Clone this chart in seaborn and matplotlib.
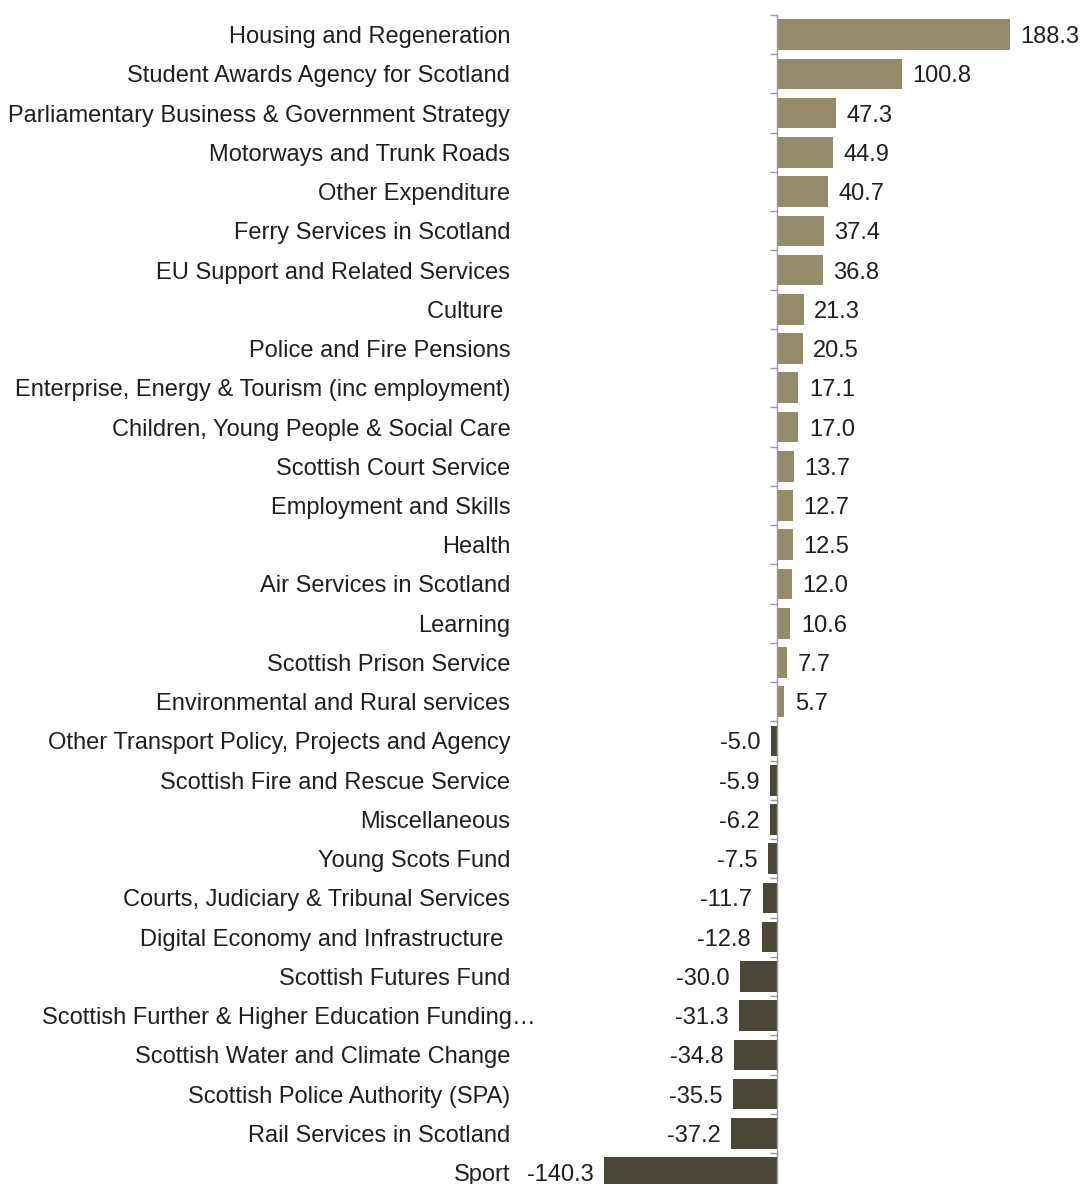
import matplotlib
matplotlib.use("Agg")
import matplotlib.pyplot as plt
import seaborn as sns
import pandas as pd
import numpy as np

categories = [
    "Housing and Regeneration",
    "Student Awards Agency for Scotland",
    "Parliamentary Business & Government Strategy",
    "Motorways and Trunk Roads",
    "Other Expenditure",
    "Ferry Services in Scotland",
    "EU Support and Related Services",
    "Culture ",
    "Police and Fire Pensions",
    "Enterprise, Energy & Tourism (inc employment)",
    "Children, Young People & Social Care",
    "Scottish Court Service",
    "Employment and Skills",
    "Health",
    "Air Services in Scotland",
    "Learning",
    "Scottish Prison Service",
    "Environmental and Rural services",
    "Other Transport Policy, Projects and Agency",
    "Scottish Fire and Rescue Service",
    "Miscellaneous",
    "Young Scots Fund",
    "Courts, Judiciary & Tribunal Services",
    "Digital Economy and Infrastructure ",
    "Scottish Futures Fund",
    "Scottish Further & Higher Education Funding…",
    "Scottish Water and Climate Change",
    "Scottish Police Authority (SPA)",
    "Rail Services in Scotland",
    "Sport",
]
values = [188.3, 100.8, 47.3, 44.9, 40.7, 37.4, 36.8, 21.3, 20.5, 17.1, 17.0,
          13.7, 12.7, 12.5, 12.0, 10.6, 7.7, 5.7, -5.0, -5.9, -6.2, -7.5,
          -11.7, -12.8, -30.0, -31.3, -34.8, -35.5, -37.2, -140.3]

df = pd.DataFrame({"category": categories, "value": values})
df["sign"] = np.where(df["value"] >= 0, "pos", "neg")

sns.set_style("white")
plt.rcParams["font.family"] = ["Liberation Sans", "DejaVu Sans"]

W, H, DPI = 1082, 1184, 100
fig = plt.figure(figsize=(W / DPI, H / DPI), dpi=DPI)
ax = fig.add_axes([604 / W, 0, 406 / W, (H - 15.0) / H])

sns.barplot(data=df, x="value", y="category", hue="sign", orient="h",
            palette={"pos": "#9a8f62", "neg": "#4e4935"}, dodge=False,
            legend=False, width=0.78, ax=ax, edgecolor="none", linewidth=0)

ax.set_xlabel("")
ax.set_ylabel("")
ax.set_xticks([])

for s in ["top", "right", "bottom"]:
    ax.spines[s].set_visible(False)
ax.spines["left"].set_position(("data", 0))
ax.spines["left"].set_color("#9a9a9a")
ax.spines["left"].set_linewidth(1.0)

ax.set_yticks(range(len(categories)))
ax.set_yticklabels(["" if c.endswith("…") else c for c in categories])
ax.set_yticks(np.arange(-0.5, len(categories) - 1, 1.0), minor=True)
ax.tick_params(axis="y", which="major", length=0, pad=267 * 72 / DPI,
               labelsize=17, labelcolor="#1f1f1f")
ax.tick_params(axis="y", which="minor", length=5, width=1.0, color="#9a9a9a",
               direction="out", left=True)

ax.set_xlim(-140.3, 188.3)
ax.set_ylim(29.29, -0.5)

for i, c in enumerate(categories):
    if c.endswith("…"):
        ax.annotate(c, xy=(0, i), xycoords="data", xytext=(-(267 - 25), 0),
                    textcoords="offset pixels", ha="right", va="center_baseline",
                    fontsize=17, color="#1f1f1f")

for cont in ax.containers:
    texts = ax.bar_label(cont, fmt="%.1f", padding=7.5, fontsize=17, color="#1f1f1f")
    for t in texts:
        t.set_va("center_baseline")

fig.savefig("out.png", dpi=DPI, facecolor="white")
